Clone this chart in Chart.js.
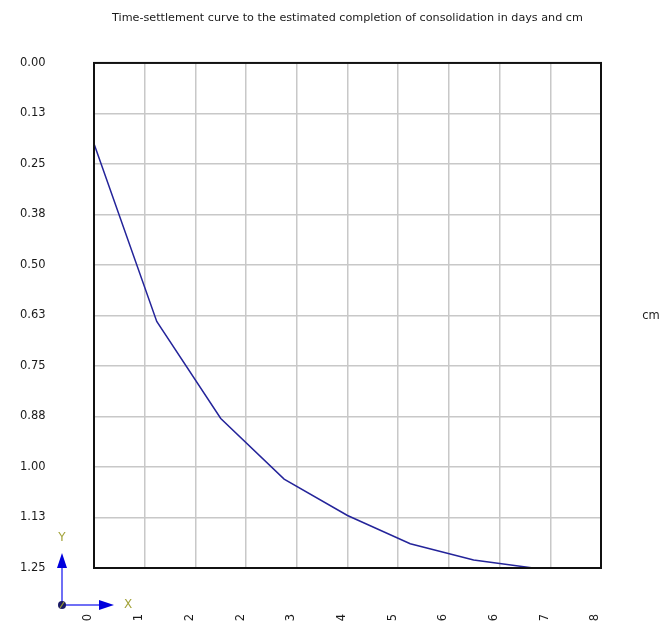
<!DOCTYPE html>
<html>
<head>
<meta charset="utf-8">
<script src="https://cdn.jsdelivr.net/npm/chart.js@4.4.1/dist/chart.umd.min.js"></script>
<style>
  html, body { margin: 0; padding: 0; background: #ffffff; }
  #wrap { width: 672px; height: 624px; }
</style>
</head>
<body>
<div id="wrap"><canvas id="c" width="672" height="624"></canvas></div>
<script>
// ---- data ----
const days = [0, 0.99, 2.0, 3.0, 4.0, 4.99, 5.99, 6.93];
const settlementCm = [0.20, 0.64, 0.88, 1.03, 1.12, 1.19, 1.23, 1.25];
const xTickValues = [0, 0.8, 1.6, 2.4, 3.2, 4.0, 4.8, 5.6, 6.4, 7.2, 8.0];
const xTickLabels = ['0', '1', '2', '2', '3', '4', '5', '6', '6', '7', '8'];
const yTickValues = [0, 0.125, 0.25, 0.375, 0.5, 0.625, 0.75, 0.875, 1.0, 1.125, 1.25];
const yTickLabels = ['0.00', '0.13', '0.25', '0.38', '0.50', '0.63', '0.75', '0.88', '1.00', '1.13', '1.25'];
const titleText = 'Time-settlement curve to the estimated completion of consolidation in days and cm';
const unitText = 'cm';

const FONT = 'DejaVu Sans, Verdana, sans-serif';

const points = days.map((d, i) => ({ x: d, y: settlementCm[i] }));

const framePlugin = {
  id: 'frame',
  afterDraw(chart) {
    const { ctx, chartArea: a } = chart;
    ctx.save();
    // plot frame
    ctx.strokeStyle = '#111111';
    ctx.lineWidth = 2;
    ctx.strokeRect(a.left, a.top, a.right - a.left, a.bottom - a.top);
    // unit label on right
    ctx.fillStyle = '#222222';
    ctx.font = '11.5px ' + FONT;
    ctx.textAlign = 'center';
    ctx.textBaseline = 'middle';
    ctx.fillText(unitText, a.right + 50, (a.top + a.bottom) / 2 + 1);
    // axis orientation icon
    const ox = a.left - 32, oy = a.bottom + 37;
    ctx.lineWidth = 2;
    ctx.strokeStyle = '#6f6ff5';
    ctx.beginPath();
    ctx.moveTo(ox, oy); ctx.lineTo(ox, oy - 40);
    ctx.moveTo(ox, oy); ctx.lineTo(ox + 40, oy);
    ctx.stroke();
    ctx.fillStyle = '#0000dd';
    ctx.beginPath();
    ctx.moveTo(ox, oy - 52); ctx.lineTo(ox - 5, oy - 37); ctx.lineTo(ox + 5, oy - 37); ctx.closePath();
    ctx.fill();
    ctx.beginPath();
    ctx.moveTo(ox + 52, oy); ctx.lineTo(ox + 37, oy - 5); ctx.lineTo(ox + 37, oy + 5); ctx.closePath();
    ctx.fill();
    ctx.fillStyle = '#1a1a66';
    ctx.beginPath();
    ctx.arc(ox, oy, 4, 0, Math.PI * 2);
    ctx.fill();
    ctx.strokeStyle = '#9a9a30';
    ctx.lineWidth = 1.2;
    ctx.beginPath();
    ctx.moveTo(ox - 2, oy + 3); ctx.lineTo(ox + 2, oy - 3);
    ctx.stroke();
    ctx.fillStyle = '#a3a33a';
    ctx.font = '12px ' + FONT;
    ctx.fillText('Y', ox, oy - 67);
    ctx.fillText('X', ox + 66, oy);
    ctx.restore();
  }
};

new Chart(document.getElementById('c'), {
  type: 'line',
  data: {
    datasets: [{
      data: points,
      borderColor: '#24249a',
      borderWidth: 1.5,
      pointRadius: 0,
      tension: 0,
      fill: false
    }]
  },
  options: {
    responsive: false,
    animation: false,
    events: [],
    layout: { padding: { left: 20, right: 71, top: 0, bottom: 0 } },
    plugins: {
      legend: { display: false },
      tooltip: { enabled: false },
      title: {
        display: true,
        fullSize: false,
        text: titleText,
        color: '#1a1a1a',
        font: { family: FONT, size: 11.2, weight: 'normal' },
        padding: { top: 11.5, bottom: 38 }
      }
    },
    scales: {
      x: {
        type: 'linear',
        min: 0,
        max: 8,
        afterBuildTicks(scale) { scale.ticks = xTickValues.map(v => ({ value: v })); },
        afterFit(scale) { scale.height = 56; },
        grid: { color: '#c8c8c8', lineWidth: 1.5, drawTicks: false },
        border: { display: false },
        ticks: {
          autoSkip: false,
          minRotation: 90,
          maxRotation: 90,
          padding: 46,
          labelOffset: -5.5,
          color: '#1a1a1a',
          font: { family: FONT, size: 11.5 },
          callback: (v, i) => xTickLabels[i]
        }
      },
      y: {
        type: 'linear',
        reverse: true,
        min: 0,
        max: 1.25,
        afterBuildTicks(scale) { scale.ticks = yTickValues.map(v => ({ value: v })); },
        afterFit(scale) { scale.width = 74; },
        grid: { color: '#c8c8c8', lineWidth: 1.5, drawTicks: false },
        border: { display: false },
        ticks: {
          autoSkip: false,
          crossAlign: 'far',
          color: '#1a1a1a',
          font: { family: FONT, size: 11.5 },
          callback: (v, i) => yTickLabels[i]
        }
      }
    }
  },
  plugins: [framePlugin]
});
</script>
</body>
</html>
